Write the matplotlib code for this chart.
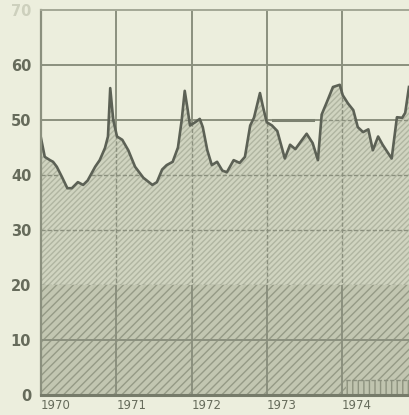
import matplotlib.pyplot as plt

# traced points of the series (decimal year, value)
dates = [1970.00, 1970.05, 1970.12, 1970.16, 1970.21, 1970.28, 1970.35, 1970.41,
         1970.49, 1970.56, 1970.62, 1970.72, 1970.78, 1970.85, 1970.89, 1970.92,
         1970.96, 1971.01, 1971.08, 1971.16, 1971.25, 1971.36, 1971.48, 1971.54,
         1971.61, 1971.67, 1971.75, 1971.82, 1971.87, 1971.91, 1971.95, 1971.98,
         1972.05, 1972.11, 1972.15, 1972.21, 1972.27, 1972.34, 1972.41, 1972.47,
         1972.56, 1972.64, 1972.71, 1972.78, 1972.83, 1972.91, 1972.95, 1973.00,
         1973.07, 1973.14, 1973.20, 1973.24, 1973.31, 1973.38, 1973.47, 1973.53,
         1973.61, 1973.68, 1973.73, 1973.80, 1973.88, 1973.97, 1974.01, 1974.08,
         1974.15, 1974.21, 1974.28, 1974.35, 1974.41, 1974.48, 1974.54, 1974.66,
         1974.73, 1974.80, 1974.84, 1974.89]
values = [46.7, 43.3, 42.7, 42.4, 41.5, 39.6, 37.6, 37.6,
          38.7, 38.2, 39.0, 41.5, 42.7, 44.9, 47.0, 55.8,
          50.0, 47.0, 46.4, 44.5, 41.5, 39.5, 38.2, 38.7,
          41.0, 41.8, 42.4, 45.0, 50.0, 55.3, 51.8, 49.0,
          49.6, 50.2, 48.7, 44.5, 41.8, 42.4, 40.8, 40.5,
          42.7, 42.2, 43.3, 49.0, 50.4, 54.9, 52.4, 49.6,
          49.0, 48.0, 45.0, 43.0, 45.5, 44.7, 46.4, 47.5,
          45.8, 42.7, 51.0, 53.3, 56.0, 56.4, 54.5, 53.0,
          51.8, 48.7, 47.8, 48.3, 44.5, 47.0, 45.5, 43.0,
          50.5, 50.4, 51.3, 56.0]

base_level = 20
low_span, low_level = [1974.05, 1975.0], 2.7
mark_span, mark_level = [1973.08, 1973.61], 50

years = [1970, 1971, 1972, 1973, 1974]
y_ticks = [0, 10, 20, 30, 40, 50, 60, 70]

bg = '#eceedd'
grid = '#8b907e'
ink = '#5c6155'
label_col = '#666b5b'

plt.rcParams['hatch.linewidth'] = 1.0

fig = plt.figure(figsize=(4.09, 4.15), dpi=100, facecolor=bg)
ax = fig.add_axes([41 / 409, 20 / 415, 376.25 / 409, 385 / 415])
ax.set_facecolor(bg)
ax.set_xlim(1970, 1975)
ax.set_ylim(0, 70)

# lower band 0-20
ax.fill_between([1970, 1975], 0, base_level, facecolor='#c2c6b1',
                edgecolor='#959a86', hatch='////', linewidth=0, zorder=0.5)

# solid grid
for y in [10, 50, 60]:
    ax.axhline(y, color=grid, lw=1.4, zorder=1)
for yr in years[1:]:
    ax.axvline(yr, color=grid, lw=1.4, zorder=1)

# area between 20 and the series
poly = ax.fill_between(dates, base_level, values, facecolor='#d0d4c0',
                       edgecolor='#b0b5a1', hatch='//////', linewidth=0, zorder=2)
clip = poly.get_paths()[0]

# dashed grid inside the area
for y in [20, 30, 40, 50, 60]:
    ln = ax.axhline(y, color=grid, lw=1.0, ls=(0, (3, 1.5)), zorder=3)
    ln.set_clip_path(clip, ax.transData)
for yr in years[1:]:
    ln = ax.axvline(yr, color=grid, lw=1.0, ls=(0, (3, 1.5)), zorder=3)
    ln.set_clip_path(clip, ax.transData)

# small series at the bottom
ax.fill_between(low_span, 0, low_level, facecolor='#c0c4af',
                edgecolor='#8e937f', hatch='|||', linewidth=0, zorder=2.5)
ax.plot(low_span, [low_level, low_level], color=grid, lw=1.0,
        ls=(0, (3, 1.5)), zorder=3)

ax.plot(mark_span, [mark_level, mark_level], color='#7c8170', lw=2.2, zorder=3)

ax.plot(dates, values, color=ink, lw=1.9, zorder=4)

ax.spines['right'].set_visible(False)
ax.spines['left'].set_color(grid)
ax.spines['left'].set_linewidth(1.6)
ax.spines['top'].set_color('#a4a896')
ax.spines['top'].set_linewidth(1.4)
ax.spines['bottom'].set_color('#767b6a')
ax.spines['bottom'].set_linewidth(2.2)
for s in ax.spines.values():
    s.set_zorder(5)

ax.set_yticks(y_ticks)
ax.set_yticklabels([str(v) for v in y_ticks], fontsize=10.5, fontweight='bold',
                   color=label_col)
ax.get_yticklabels()[-1].set_color('#cdd0bd')
ax.set_xticks(years)
ax.set_xticklabels([str(v) for v in years], fontsize=8.5, color=label_col)
for lbl in ax.get_xticklabels():
    lbl.set_ha('left')
ax.tick_params(length=0)
ax.tick_params(axis='y', pad=7)
ax.tick_params(axis='x', pad=3)

fig.savefig('out.png', dpi=100, facecolor=bg)
